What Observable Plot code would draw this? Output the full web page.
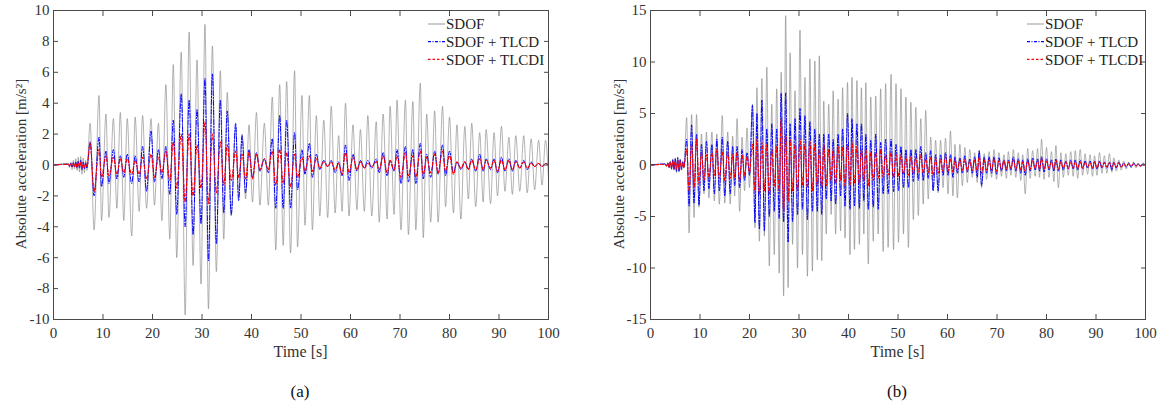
<!DOCTYPE html>
<html><head><meta charset="utf-8">
<script src="https://cdn.jsdelivr.net/npm/d3@7"></script>
<script src="https://cdn.jsdelivr.net/npm/@observablehq/plot@0.6"></script>
<style>
body{margin:0;background:#fff;font-family:"Liberation Serif","Times New Roman",serif;}
#wrap{position:relative;width:1172px;height:404px;overflow:hidden;}
.panel{position:absolute;top:0;}
.cap{position:absolute;top:382px;font-size:17px;line-height:20px;transform:translateX(-50%);color:#111;font-family:"Liberation Serif","Times New Roman",serif;}
</style></head><body><div id="wrap"></div>
<script>
// ---------- Panel (a) ----------
const timeA = [0,3.0,3.25,3.5,3.75,4.0,4.25,4.5,4.75,5.0,5.25,5.5,5.75,6.0,6.25,6.5,6.75,
7.4,8.2,9.2,9.7,10.6,11.2,12.1,12.8,13.5,14.2,
14.9,15.8,16.5,17.3,18.0,18.8,19.7,20.4,21.2,21.9,
22.7,23.5,24.2,24.9,25.8,26.6,27.4,28.2,29.0,29.8,
30.6,31.3,32.1,32.9,33.7,34.4,35.1,35.9,36.8,37.4,
38.1,38.8,39.5,40.2,41.0,41.7,42.6,43.4,44.2,44.9,
45.7,46.4,47.1,47.9,48.7,49.3,50.2,50.8,51.7,52.3,
53.1,53.8,54.6,55.4,56.1,56.9,57.6,58.3,59.0,59.7,
60.5,61.3,62.0,62.8,63.5,64.3,65.2,65.8,66.6,67.4,
68.0,68.8,69.4,70.2,71.1,71.7,72.6,73.2,74.1,74.7,
75.4,76.2,77.0,77.7,78.6,79.2,80.0,80.8,81.5,82.3,
83.1,83.8,84.5,85.3,86.1,86.8,87.4,88.3,89.0,89.7,
90.5,91.2,92.0,92.7,93.4,94.2,95.0,95.7,96.5,97.2,
98.0,98.7,99.4,100];
const sdofA = [0,0.1,-0.15,0.2,-0.3,0.3,-0.25,0.4,-0.35,0.5,-0.45,0.55,-0.6,0.45,-0.5,0.3,-0.35,
2.7,-4.2,4.5,-3.6,3.3,-3.4,3.0,-2.8,3.4,-3.6,
3.0,-4.6,3.1,-3.0,3.2,-2.8,3.0,-2.6,2.7,-3.6,
5.2,-4.8,6.5,-6.0,7.3,-9.7,8.6,-6.5,6.8,-7.7,
9.1,-9.3,7.7,-6.9,6.1,-4.8,4.7,-3.3,2.4,-2.0,
2.0,-2.2,2.6,-2.4,3.4,-2.6,2.7,-2.6,4.4,-5.5,
5.2,-5.2,5.4,-5.7,6.1,-5.3,4.5,-3.9,4.5,-4.2,
3.2,-3.3,2.9,-3.4,3.8,-3.1,1.9,-3.0,4.0,-3.3,
2.6,-2.9,2.3,-3.0,3.2,-3.3,2.8,-3.7,3.3,-3.5,
3.8,-3.2,4.2,-4.2,4.2,-4.5,4.1,-4.2,5.3,-4.7,
3.3,-3.7,3.5,-3.7,3.8,-2.7,3.1,-3.1,2.6,-3.5,
2.5,-2.2,2.7,-2.7,2.1,-2.4,2.3,-2.5,2.1,-2.0,
2.5,-1.7,1.8,-1.9,1.9,-1.7,1.9,-1.8,1.7,-1.6,
1.6,-1.3,1.6,-0.9];
const tlcdA = [0,0.05,-0.1,0.1,-0.15,0.15,-0.15,0.2,-0.2,0.25,-0.2,0.3,-0.3,0.2,-0.25,0.15,-0.2,
1.5,-2.0,1.8,-1.4,0.9,-1.2,1.0,-0.9,0.6,-0.8,
0.7,-1.2,0.6,-1.1,1.2,-1.7,2.2,-1.1,1.0,-0.9,
1.2,-1.9,2.9,-3.2,4.6,-4.0,4.2,-4.5,3.6,-3.8,
5.6,-6.2,5.9,-5.1,4.2,-3.1,3.5,-3.2,2.7,-2.3,
1.9,-1.8,1.0,-0.8,0.8,-0.4,0.4,-0.5,1.7,-2.8,
3.2,-2.8,2.9,-2.8,2.1,-1.6,1.0,-0.6,1.4,-0.8,
0.7,-0.3,0.3,-0.1,0.3,-0.5,0.2,-0.7,1.3,-1.0,
0.7,-0.4,0.3,-0.2,0.3,-0.2,0.4,-0.5,0.8,-0.7,
0.3,-0.4,1.0,-1.2,1.2,-1.1,1.0,-1.2,1.4,-0.9,
0.7,-0.8,0.9,-0.6,1.3,-0.7,0.9,-0.5,0.2,-0.3,
0.2,-0.3,0.4,-0.4,0.7,-0.4,0.4,-0.3,0.4,-0.5,
0.5,-0.4,0.4,-0.4,0.3,-0.2,0.3,-0.3,0.2,-0.1,
0.1,-0.1,0.1,0];
const tlcdiA = [0,0.05,-0.05,0.1,-0.1,0.1,-0.1,0.15,-0.15,0.15,-0.15,0.2,-0.2,0.15,-0.15,0.1,-0.1,
1.4,-1.7,1.0,-0.8,0.6,-0.7,0.5,-0.6,0.4,-0.5,
0.4,-0.6,0.3,-0.6,0.5,-0.9,0.7,-0.8,0.5,-0.5,
0.9,-1.0,1.5,-1.5,2.0,-2.4,2.0,-2.0,1.3,-1.5,
2.8,-2.5,2.0,-1.8,1.5,-1.3,1.3,-1.0,0.9,-0.8,
0.7,-0.9,0.8,-0.9,0.7,-0.3,0.4,-0.3,0.9,-1.3,
1.0,-1.2,0.8,-1.4,0.7,-0.8,0.5,-0.4,0.6,-0.4,
0.4,-0.2,0.2,-0.1,0.2,-0.3,0.1,-0.6,0.8,-0.5,
0.5,-0.3,0.2,-0.2,0.1,-0.1,0.2,-0.3,0.6,-0.5,
0.3,-0.3,0.6,-0.8,0.8,-0.7,0.6,-0.8,0.9,-0.6,
0.5,-0.5,0.7,-0.5,0.9,-0.4,0.6,-0.6,0.2,-0.2,
0.2,-0.3,0.3,-0.3,0.4,-0.3,0.3,-0.2,0.3,-0.4,
0.3,-0.3,0.3,-0.3,0.2,-0.2,0.2,-0.2,0.1,-0.1,
0.1,-0.1,0.1,0];

// ---------- Panel (b) ----------
const timeB = [0,3.0,3.25,3.5,3.75,4.0,4.25,4.5,4.75,5.0,5.25,5.5,5.75,6.0,6.25,6.5,6.75,
7.3,7.8,8.3,8.8,9.3,9.8,10.3,10.8,11.3,11.8,
12.4,12.9,13.4,13.9,14.5,15.0,15.6,16.1,16.6,17.0,
17.5,18.0,18.5,19.0,19.5,20.0,20.6,21.1,21.5,22.0,
22.5,23.0,23.5,24.0,24.5,25.0,25.5,26.0,26.4,26.9,
27.3,27.8,28.2,28.7,29.2,29.7,30.2,30.7,31.2,31.7,
32.2,32.7,33.2,33.7,34.1,34.6,35.0,35.5,36.0,36.5,
36.9,37.4,37.9,38.4,38.8,39.3,39.8,40.3,40.7,41.2,
41.7,42.2,42.6,43.1,43.5,44.0,44.5,45.0,45.5,46.0,
46.5,47.0,47.5,48.0,48.6,49.1,49.6,50.1,50.6,51.1,
51.6,52.1,52.6,53.1,53.6,54.1,54.6,55.1,55.6,56.1,
56.6,57.1,57.6,58.1,58.6,59.1,59.6,60.1,60.6,61.1,
61.5,62.0,62.5,63.0,63.5,64.0,64.5,65.0,65.5,66.0,
66.4,66.9,67.4,67.9,68.4,68.9,69.4,69.9,70.4,70.9,
71.4,71.9,72.3,72.8,73.3,73.8,74.3,74.8,75.2,75.7,
76.2,76.7,77.2,77.7,78.2,78.6,79.0,79.5,80.0,80.5,
81.0,81.5,81.9,82.4,82.9,83.4,83.9,84.4,84.9,85.4,
85.8,86.3,86.8,87.3,87.8,88.3,88.8,89.3,89.7,90.2,
90.7,91.2,91.7,92.2,92.7,93.2,93.6,94.1,94.6,95.1,
95.6,96.1,96.6,97.1,97.6,98.1,98.5,99.0,99.5,100];
const sdofB = [0,0.1,-0.15,0.25,-0.3,0.4,-0.45,0.6,-0.5,0.7,-0.75,0.8,-0.7,0.6,-0.5,0.4,-0.3,
4.6,-6.6,4.9,-5.1,4.9,-4.1,3.0,-2.8,3.2,-3.2,
3.2,-3.5,3.0,-3.8,4.8,-3.7,3.2,-3.8,2.8,-3.0,
4.5,-4.5,2.7,-2.5,3.6,-2.2,5.9,-6.1,7.5,-7.4,
8.4,-6.9,9.5,-9.8,5.9,-8.7,7.4,-10.5,9.0,-12.7,
14.5,-11.9,10.9,-7.7,7.2,-10.0,13.1,-8.7,8.5,-10.8,
10.3,-10.3,10.1,-9.2,10.6,-9.3,6.2,-6.7,5.9,-4.8,
7.2,-6.7,6.4,-6.4,7.5,-7.1,8.0,-8.7,8.5,-8.2,
8.2,-7.7,7.5,-6.7,8.0,-9.6,6.6,-7.4,6.7,-6.7,
7.4,-8.4,7.9,-8.0,8.8,-8.2,7.9,-7.5,7.4,-6.7,
6.6,-8.0,6.1,-5.3,5.6,-4.9,4.5,-3.8,5.3,-3.3,
2.7,-2.5,2.4,-2.7,2.4,-2.2,2.6,-2.8,3.3,-3.0,
2.0,-3.2,2.0,-2.0,1.7,-1.7,1.5,-1.2,1.2,-1.7,
1.4,-2.2,1.1,-1.4,1.3,-1.2,1.5,-1.4,1.2,-1.1,
1.0,-1.3,1.3,-1.0,1.5,-1.2,1.2,-1.5,1.0,-2.8,
1.6,-1.3,1.4,-1.1,1.6,-1.2,2.5,-1.4,1.7,-1.2,
1.3,-1.6,1.9,-2.2,1.2,-1.2,1.1,-1.0,1.3,-1.1,
1.4,-1.3,1.5,-1.0,1.1,-0.9,1.0,-1.1,0.9,-1.0,
1.2,-0.8,0.9,-0.8,1.1,-0.7,0.7,-0.6,0.5,-0.5,
0.4,-0.4,0.3,-0.3,0.3,-0.3,0.2,-0.2,0.2,0];
const tlcdB = [0,0.1,-0.1,0.2,-0.25,0.3,-0.35,0.5,-0.45,0.6,-0.6,0.7,-0.6,0.5,-0.45,0.3,-0.25,
2.5,-4.0,3.9,-3.7,3.0,-3.9,2.0,-2.5,2.3,-2.3,
2.0,-2.8,2.5,-2.5,2.7,-3.0,2.3,-2.8,1.8,-2.0,
1.8,-2.2,1.5,-1.5,1.2,-1.0,5.8,-5.6,5.0,-6.2,
6.3,-6.4,3.5,-5.0,4.0,-4.5,3.5,-5.2,7.0,-5.5,
7.0,-7.5,4.0,-5.5,4.5,-4.8,5.5,-4.3,4.8,-5.3,
4.2,-4.5,3.5,-4.5,3.0,-4.8,3.0,-3.3,3.0,-3.5,
2.5,-3.8,3.0,-3.0,3.5,-4.0,5.0,-4.3,4.5,-4.0,
4.0,-4.2,4.0,-3.5,3.0,-4.3,2.4,-4.1,3.0,-4.3,
2.2,-2.8,2.5,-2.8,2.5,-2.6,2.0,-2.5,1.8,-2.2,
1.5,-2.2,1.5,-1.6,1.5,-1.5,1.8,-1.5,1.2,-1.3,
1.4,-2.5,1.0,-2.5,1.0,-1.0,1.2,-1.0,1.0,-1.2,
0.8,-0.8,0.7,-0.8,0.9,-0.7,0.6,-0.8,0.8,-1.2,
1.4,-2.0,0.8,-0.8,0.8,-0.8,0.8,-0.9,0.7,-0.6,
0.5,-0.6,0.5,-0.5,0.8,-0.6,0.6,-0.8,0.5,-1.0,
0.6,-0.6,0.7,-0.5,0.6,-0.6,0.8,-0.7,0.6,-0.5,
0.5,-0.6,0.6,-0.6,0.5,-0.5,0.4,-0.4,0.5,-0.4,
0.5,-0.5,0.5,-0.4,0.4,-0.3,0.4,-0.4,0.4,-0.4,
0.4,-0.3,0.3,-0.3,0.3,-0.5,0.3,-0.3,0.3,-0.2,
0.2,-0.2,0.2,-0.2,0.2,-0.1,0.1,-0.1,0.1,0];
const tlcdiB = [0,0.05,-0.1,0.15,-0.2,0.25,-0.25,0.35,-0.3,0.4,-0.4,0.45,-0.4,0.35,-0.3,0.2,-0.2,
1.5,-2.5,2.0,-2.2,2.5,-1.8,1.2,-1.5,1.0,-1.2,
1.2,-1.0,1.5,-1.3,1.3,-1.5,1.2,-1.3,1.0,-1.2,
1.3,-1.5,1.0,-1.0,0.8,-0.7,2.0,-2.5,2.5,-2.8,
2.2,-2.5,2.0,-2.8,1.5,-2.0,1.8,-2.5,4.5,-4.5,
3.0,-3.5,2.5,-2.5,2.0,-2.5,2.5,-2.0,2.0,-2.2,
2.3,-2.5,2.0,-2.0,1.5,-2.2,2.0,-2.0,1.5,-1.5,
1.5,-1.8,1.8,-1.5,1.7,-2.0,2.0,-2.0,2.2,-1.8,
1.8,-1.8,1.5,-1.5,1.5,-2.0,1.2,-1.5,1.2,-1.3,
1.5,-1.2,1.0,-1.0,1.2,-1.2,1.0,-1.1,1.0,-0.9,
0.8,-1.0,0.8,-0.8,0.7,-0.7,1.0,-0.8,0.6,-0.7,
0.7,-1.0,0.6,-0.8,0.5,-0.6,0.8,-0.6,0.6,-0.7,
0.5,-0.5,0.5,-0.5,0.5,-0.5,0.4,-0.5,0.5,-0.6,
0.8,-0.8,0.5,-0.5,0.5,-0.5,0.6,-0.6,0.4,-0.4,
0.4,-0.4,0.3,-0.3,0.5,-0.4,0.4,-0.5,0.3,-0.6,
0.4,-0.4,0.4,-0.3,0.4,-0.4,0.6,-0.4,0.4,-0.3,
0.3,-0.4,0.5,-0.4,0.3,-0.3,0.3,-0.3,0.3,-0.3,
0.3,-0.3,0.3,-0.3,0.3,-0.2,0.2,-0.3,0.3,-0.3,
0.3,-0.2,0.2,-0.2,0.2,-0.2,0.2,-0.2,0.2,-0.2,
0.1,-0.1,0.1,-0.1,0.1,-0.1,0.1,-0.1,0.0,0];

const xTicks = [0,10,20,30,40,50,60,70,80,90,100];
const yTicksA = [-10,-8,-6,-4,-2,0,2,4,6,8,10];
const yTicksB = [-15,-10,-5,0,5,10,15];
const seriesNames = ["SDOF","SDOF + TLCD","SDOF + TLCDI"];
const seriesColors = ["#7f7f7f","#0000ff","#ff0000"];
const seriesDash = [null,"5,1.6,1.4,1.6","3,2"];
const seriesWidth = [0.6,1.0,1.1];
const yLabel = "Absolute acceleration [m/s\u00b2]";
const xLabel = "Time [s]";
const FONT = "Liberation Serif, Times New Roman, serif";

const fmt = d => String(d);
function panel(o){
  const mk = vals => o.time.map((t,i)=>({t, v: vals[i]}));
  const marks = [];
  [o.sdof,o.tlcd,o.tlcdi].forEach((vals,k)=>{
    marks.push(Plot.line(mk(vals), {x:"t", y:"v", stroke:seriesColors[k], strokeWidth:seriesWidth[k],
      strokeDasharray:seriesDash[k] || undefined, curve:"monotone-x", clip:true}));
  });
  marks.push(Plot.frame({stroke:"#4a4a4a", strokeWidth:1}));
  marks.push(Plot.axisX(xTicks, {anchor:"bottom", tickSize:-5, tickPadding:13, tickFormat:fmt, label:null, stroke:"#4a4a4a"}));
  marks.push(Plot.axisX(xTicks, {anchor:"top", tickSize:-5, tickFormat:()=>"", label:null, stroke:"#4a4a4a"}));
  marks.push(Plot.axisY(o.yTicks, {anchor:"left", tickSize:-5, tickPadding:9, tickFormat:fmt, label:null, stroke:"#4a4a4a"}));
  marks.push(Plot.axisY(o.yTicks, {anchor:"right", tickSize:-5, tickFormat:()=>"", label:null, stroke:"#4a4a4a"}));
  const svg = Plot.plot({
    width:o.width, height:360, marginLeft:o.ml, marginRight:o.mr, marginTop:10, marginBottom:41,
    style:{fontFamily:FONT, background:"white", overflow:"visible"},
    x:{domain:[0,100]}, y:{domain:o.yDomain},
    marks
  });
  const s = d3.select(svg);
  s.selectAll("text").style("font-size","15px").style("font-family",FONT).attr("fill","#333");
  // axis titles
  s.append("text").attr("x", o.ml + (o.width-o.ml-o.mr)/2).attr("y", 351).attr("dy","0.35em")
    .attr("text-anchor","middle").attr("font-family",FONT).attr("font-size","16px").attr("fill","#333").text(xLabel);
  s.append("text").attr("transform",`translate(${o.yLabX},164) rotate(-90)`).attr("dy","0.35em")
    .attr("text-anchor","middle").attr("font-family",FONT).attr("font-size","15px").attr("fill","#333").text(yLabel);
  // legend inside top-right of the frame
  const g = s.append("g").attr("font-family",FONT).attr("font-size","15px").attr("fill","#222").attr("text-anchor","start");
  seriesNames.forEach((name,k)=>{
    const y = 24 + k*17.7;
    g.append("line").attr("x1",o.legX).attr("x2",o.legX+17).attr("y1",y).attr("y2",y)
      .attr("stroke",seriesColors[k]).attr("stroke-width",k===0?0.8:1.2)
      .attr("stroke-dasharray",seriesDash[k] ? (k===1?"3,1.5,1,1.5":"2.5,2") : null);
    g.append("text").attr("x",o.legX+18).attr("y",y).attr("dy","0.35em").text(name);
  });
  return svg;
}

const wrap = document.getElementById("wrap");
function place(svg,left){ const d=document.createElement("div"); d.className="panel"; d.style.left=left+"px"; d.appendChild(svg); wrap.appendChild(d); }
place(panel({time:timeA, sdof:sdofA, tlcd:tlcdA, tlcdi:tlcdiA, yTicks:yTicksA, yDomain:[-10,10], width:590, ml:53, mr:42, yLabX:21, legX:428}), 0);
place(panel({time:timeB, sdof:sdofB, tlcd:tlcdB, tlcdi:tlcdiB, yTicks:yTicksB, yDomain:[-15,15], width:582, ml:60, mr:27, yLabX:29, legX:437}), 590);
[["(a)",300],["(b)",897]].forEach(([s,x])=>{const c=document.createElement("div");c.className="cap";c.style.left=x+"px";c.textContent=s;wrap.appendChild(c);});
</script></body></html>
